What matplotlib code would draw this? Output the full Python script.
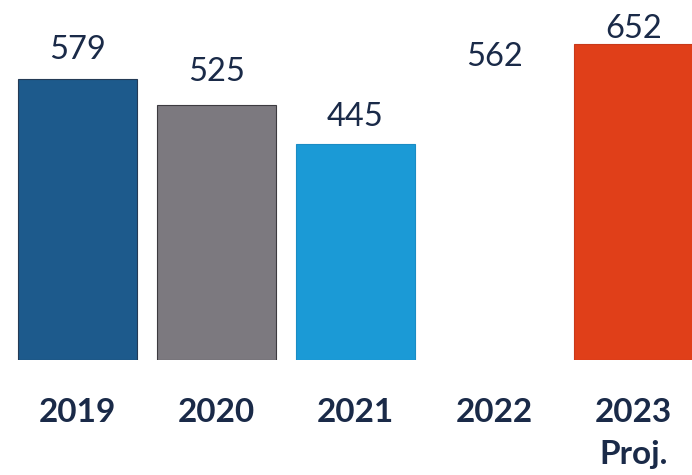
import matplotlib
matplotlib.use("Agg")
import matplotlib.pyplot as plt

years = ["2019", "2020", "2021", "2022", "2023\nProj."]
values = [579, 525, 445, 562, 652]
colors = ["#1d5a8c", "#7c797f", "#1b9ad6", "none", "#e03f19"]
edges = ["#243a55", "#3d3b40", "#1b8cc4", "none", "#c8391a"]

text_color = "#1a2a48"

fig = plt.figure(figsize=(6.92, 4.75), dpi=100)
ax = fig.add_axes([0, 115 / 475, 1, 360 / 475])

x = list(range(len(years)))
ax.bar(x, values, width=0.855, color=colors, edgecolor=edges, linewidth=0.8)

ax.set_xlim(-77.5 / 139, (692 - 77.5) / 139)
ax.set_ylim(0, 360 / 0.485)

label_offsets = [10, 13, 9, 11, 0]
for xi, v, off in zip(x, values, label_offsets):
    ax.annotate(str(v), (xi, v), xytext=(0, off), textcoords="offset points",
                ha="center", va="bottom", fontsize=23.5, family="Lato",
                color=text_color)

ax.set_xticks(x)
ax.set_xticklabels(years, fontsize=24, fontweight="bold", family="Lato",
                   color=text_color, linespacing=1.55)
ax.tick_params(axis="x", length=0, pad=27)
ax.set_yticks([])
for s in ax.spines.values():
    s.set_visible(False)

fig.savefig("out.png", dpi=100)
